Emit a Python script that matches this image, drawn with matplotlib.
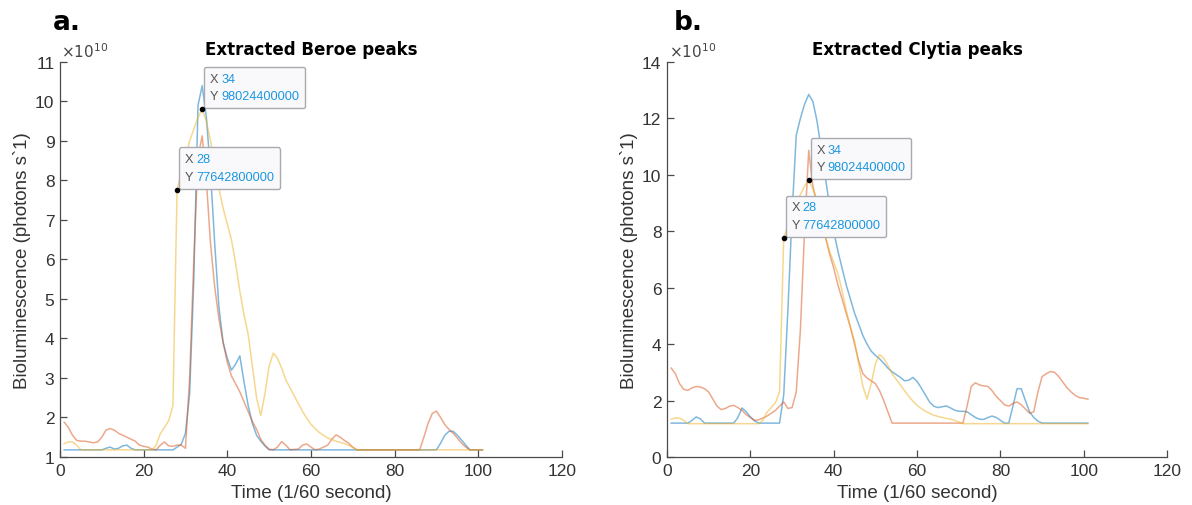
import matplotlib
matplotlib.use('Agg')
import matplotlib.pyplot as plt
from matplotlib.offsetbox import TextArea, HPacker, VPacker, AnnotationBbox

plt.rcParams['font.family'] = ['Liberation Sans', 'DejaVu Sans']

# values in units of 1e10 photons/s
beroe_blue_x = [1, 10, 11, 12, 13, 14, 15, 16, 17, 18, 27, 28, 29, 30, 31, 32, 33, 34, 35, 36, 37, 38, 39, 40,
                41, 42, 43, 44, 45, 46, 47, 48, 49, 50, 90, 91, 92, 93, 94, 95, 96, 97, 98, 101]
beroe_blue_y = [1.18, 1.18, 1.22, 1.25, 1.2, 1.22, 1.28, 1.3, 1.22, 1.18, 1.18, 1.25, 1.32, 1.6, 2.6, 5.5, 9.9,
                10.4, 9.6, 8.2, 6.4, 4.8, 3.9, 3.5, 3.2, 3.35, 3.56, 2.9, 2.3, 1.85, 1.55, 1.4, 1.28, 1.18, 1.18,
                1.35, 1.55, 1.65, 1.65, 1.55, 1.43, 1.3, 1.18, 1.18]

beroe_red_x = [1, 2, 3, 4, 5, 6, 7, 8, 9, 10, 11, 12, 13, 14, 15, 16, 17, 18, 19, 20, 21, 22, 23, 24, 25, 26, 27,
               28, 29, 30, 31, 32, 33, 34, 35, 36, 37, 38, 39, 40, 41, 42, 43, 44, 45, 46, 47, 48, 49, 50, 51, 52,
               53, 54, 55, 57, 58, 59, 60, 61, 62, 63, 64, 65, 66, 67, 68, 69, 70, 71, 86, 87, 88, 89, 90, 91, 92,
               93, 94, 95, 96, 97, 98, 101]
beroe_red_y = [1.88, 1.75, 1.55, 1.42, 1.4, 1.4, 1.38, 1.36, 1.38, 1.5, 1.68, 1.72, 1.68, 1.6, 1.55, 1.5, 1.45,
               1.4, 1.3, 1.27, 1.25, 1.2, 1.18, 1.3, 1.38, 1.28, 1.27, 1.3, 1.3, 1.22, 3.0, 6.0, 8.6, 9.13, 8.0,
               6.4, 5.3, 4.5, 3.9, 3.4, 3.05, 2.85, 2.65, 2.4, 2.15, 1.9, 1.7, 1.45, 1.3, 1.2, 1.18, 1.25, 1.39,
               1.3, 1.18, 1.2, 1.3, 1.33, 1.25, 1.18, 1.2, 1.25, 1.3, 1.45, 1.56, 1.5, 1.42, 1.35, 1.25, 1.18,
               1.18, 1.5, 1.85, 2.1, 2.16, 2.0, 1.82, 1.7, 1.6, 1.48, 1.35, 1.25, 1.18, 1.18]

# third trace is the same in both panels
yellow_x = [1, 2, 3, 4, 5, 22, 23, 24, 25, 26, 27, 28, 29, 30, 31, 32, 33, 34, 35, 36, 37, 38, 39, 40, 41, 42,
            43, 44, 45, 46, 47, 48, 49, 50, 51, 52, 53, 54, 55, 56, 57, 58, 59, 60, 61, 62, 63, 64, 65, 66, 67,
            68, 69, 70, 71, 101]
yellow_y = [1.34, 1.38, 1.38, 1.3, 1.18, 1.18, 1.3, 1.59, 1.75, 1.92, 2.3, 7.76428, 8.2, 8.6, 9.0, 9.3, 9.6,
            9.80244, 9.5, 9.0, 8.4, 7.8, 7.3, 6.9, 6.5, 5.9, 5.2, 4.6, 4.1, 3.3, 2.5, 2.05, 2.6, 3.3, 3.63, 3.5,
            3.25, 2.95, 2.75, 2.55, 2.35, 2.15, 1.98, 1.83, 1.72, 1.62, 1.55, 1.48, 1.44, 1.4, 1.37, 1.34, 1.3,
            1.24, 1.18, 1.18]

clytia_blue_x = [1, 5, 6, 7, 8, 9, 16, 17, 18, 19, 20, 21, 22, 27, 28, 29, 30, 31, 32, 33, 34, 35, 36, 37, 38,
                 39, 40, 41, 42, 43, 44, 45, 46, 47, 48, 49, 50, 51, 52, 53, 54, 55, 56, 57, 58, 59, 60, 61, 62,
                 63, 64, 65, 66, 67, 68, 69, 70, 71, 72, 73, 74, 75, 76, 77, 78, 79, 80, 81, 82, 83, 84, 85, 86,
                 87, 88, 89, 90, 101]
clytia_blue_y = [1.2, 1.2, 1.3, 1.42, 1.35, 1.2, 1.2, 1.4, 1.74, 1.6, 1.42, 1.28, 1.2, 1.2, 2.2, 5.2, 8.6, 11.4,
                 12.0, 12.5, 12.85, 12.6, 11.9, 10.9, 9.9, 8.9, 8.0, 7.3, 6.7, 6.1, 5.6, 5.1, 4.7, 4.3, 4.0,
                 3.75, 3.6, 3.48, 3.32, 3.15, 3.02, 2.92, 2.82, 2.7, 2.72, 2.82, 2.68, 2.45, 2.2, 1.95, 1.8,
                 1.75, 1.78, 1.81, 1.74, 1.66, 1.62, 1.62, 1.6, 1.5, 1.4, 1.34, 1.33, 1.4, 1.45, 1.4, 1.3, 1.2,
                 1.2, 1.8, 2.42, 2.42, 2.0, 1.6, 1.4, 1.27, 1.2, 1.2]

clytia_red_x = list(range(1, 55)) + [71, 72, 73, 74, 75, 76, 77, 78, 79, 80, 81, 82, 83, 84, 85, 86, 87, 88, 89,
                                     90, 91, 92, 93, 94, 95, 96, 97, 98, 99, 100, 101]
clytia_red_y = [3.15, 2.95, 2.6, 2.4, 2.36, 2.45, 2.5, 2.48, 2.42, 2.3, 2.05, 1.8, 1.68, 1.72, 1.8, 1.83, 1.75,
                1.65, 1.5, 1.4, 1.3, 1.32, 1.38, 1.45, 1.55, 1.65, 1.8, 1.95, 1.72, 1.75, 2.3, 4.5, 8.0, 10.87,
                9.6, 9.0, 8.4, 7.8, 7.2, 6.7, 6.1, 5.6, 5.1, 4.6, 4.0, 3.4, 2.95, 2.8, 2.7, 2.6, 2.35, 2.0, 1.6,
                1.2, 1.2, 1.8, 2.5, 2.63, 2.55, 2.52, 2.5, 2.35, 2.15, 2.0, 1.85, 1.8, 1.9, 1.95, 1.85, 1.7,
                1.55, 1.6, 2.3, 2.85, 2.95, 3.03, 3.0, 2.85, 2.65, 2.45, 2.3, 2.18, 2.1, 2.08, 2.05]

tip_x = [28, 34]
tip_y = [7.76428, 9.80244]

c_blue = (0.0, 0.447, 0.741)
c_red = (0.85, 0.325, 0.098)
c_yel = (0.929, 0.694, 0.125)
axc = '#4a4a4a'


def datatip(ax, x, y):
    ax.plot([x], [y], 'o', color='black', ms=3, zorder=7)
    tp = dict(fontsize=9.2)
    r1 = HPacker(children=[TextArea('X', textprops=dict(color='#555555', **tp)),
                           TextArea(str(x), textprops=dict(color='#1b96e0', **tp))], sep=2, align='baseline')
    r2 = HPacker(children=[TextArea('Y', textprops=dict(color='#555555', **tp)),
                           TextArea('%.0f' % (y * 1e10), textprops=dict(color='#1b96e0', **tp))],
                 sep=2, align='baseline')
    box = VPacker(children=[r1, r2], sep=4, align='left', pad=0)
    ab = AnnotationBbox(box, (x, y), xybox=(5.5, 5), xycoords='data', boxcoords='offset points',
                        box_alignment=(0, 0), frameon=True, pad=0.42,
                        bboxprops=dict(boxstyle='round,pad=0.42,rounding_size=0.15', fc='#f9f9fb',
                                       ec='#a9a9b2', lw=1.0))
    ab.set_zorder(6)
    ax.add_artist(ab)


def panel(ax, traces, ylim, yticks, title):
    for xs, ys, c in traces:
        ax.plot(xs, ys, color=c, alpha=0.5, lw=1.1)
    for x, y in zip(tip_x, tip_y):
        datatip(ax, x, y)
    ax.set_xlim(0, 120)
    ax.set_ylim(*ylim)
    ax.set_xticks(range(0, 121, 20))
    ax.set_yticks(yticks)
    ax.spines['top'].set_visible(False)
    ax.spines['right'].set_visible(False)
    for s in ['left', 'bottom']:
        ax.spines[s].set_color(axc)
        ax.spines[s].set_linewidth(0.9)
    ax.tick_params(direction='in', length=5, width=0.9, color=axc, labelcolor='#333333', labelsize=12.5, pad=4)
    ax.set_xlabel('Time (1/60 second)', fontsize=13.5, color='#333333', labelpad=5)
    ax.set_ylabel('Bioluminescence (photons s`1)', fontsize=13.5, color='#333333', labelpad=3)
    ax.set_title(title, fontsize=12, fontweight='bold', fontfamily='DejaVu Sans', pad=6)
    ax.text(0.003, 1.004, r'$\times10^{10}$', transform=ax.transAxes, fontsize=11, color='#444444',
            ha='left', va='bottom')


fig = plt.figure(figsize=(11.92, 5.06), dpi=100)
ax_a = fig.add_axes([0.0503, 0.0949, 0.4211, 0.7806])
ax_b = fig.add_axes([0.5596, 0.0949, 0.4195, 0.7806])

panel(ax_a, [(beroe_blue_x, beroe_blue_y, c_blue), (beroe_red_x, beroe_red_y, c_red),
             (yellow_x, yellow_y, c_yel)], (1, 11), range(1, 12), 'Extracted Beroe peaks')
panel(ax_b, [(clytia_blue_x, clytia_blue_y, c_blue), (clytia_red_x, clytia_red_y, c_red),
             (yellow_x, yellow_y, c_yel)], (0, 14), range(0, 15, 2), 'Extracted Clytia peaks')

fig.text(0.044, 0.955, 'a.', fontsize=19, fontweight='bold', fontfamily='DejaVu Sans', va='center')
fig.text(0.565, 0.955, 'b.', fontsize=19, fontweight='bold', fontfamily='DejaVu Sans', va='center')

fig.savefig('out.png', dpi=100)
